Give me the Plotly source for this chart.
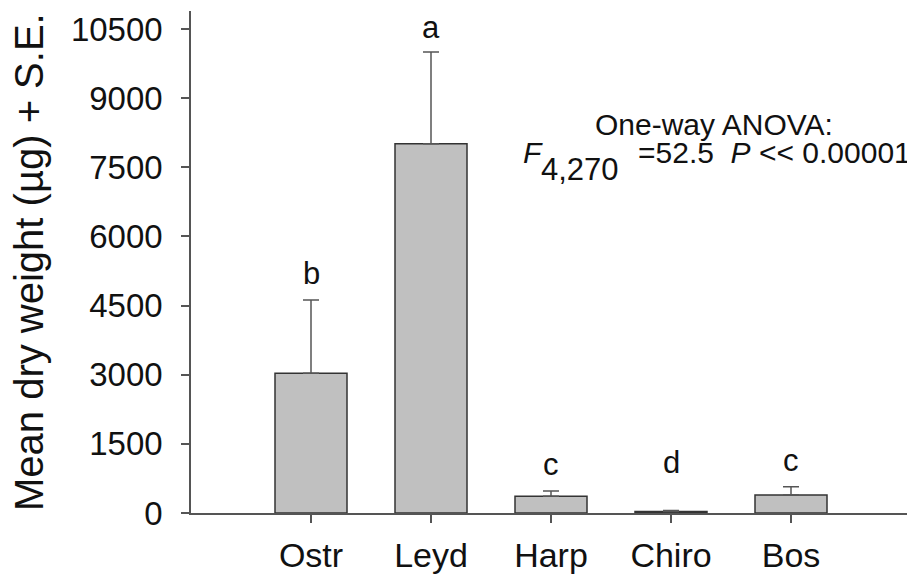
import plotly.graph_objects as go

categories = ["Ostr", "Leyd", "Harp", "Chiro", "Bos"]
means = [3030, 8010, 362, 30, 390]
se = [1590, 1990, 115, 25, 178]
letters = ["b", "a", "c", "d", "c"]
y_ticks = [0, 1500, 3000, 4500, 6000, 7500, 9000, 10500]
y_ticktext = [str(v) for v in y_ticks]

FONT = "Liberation Sans, Arial, sans-serif"
x_idx = list(range(len(categories)))

# page body has an 8px margin; the figure is sized to fill the rest
PW = 716  # plot-area width in px
PL = 191  # plot-area left edge on the page
fig = go.Figure()
fig.add_trace(go.Bar(
    x=x_idx, y=means,
    width=0.6,
    marker=dict(color="#c0c0c0", line=dict(color="#333333", width=1.5)),
    error_y=dict(type="data", symmetric=False, array=se,
                 arrayminus=[0] * len(se), color="#555555",
                 thickness=1.5, width=8),
    showlegend=False,
))

letter_shift = [7, 5, 7, 28, 7]
for i, (m, s, L) in enumerate(zip(means, se, letters)):
    fig.add_annotation(x=i, y=m + s, text=L, showarrow=False,
                       xanchor="center", yanchor="bottom",
                       yshift=letter_shift[i],
                       font=dict(family=FONT, size=31, color="#111"))

fig.add_annotation(xref="paper", yref="paper", x=(714 - PL) / PW,
                   y=(513 - 124) / 502, xanchor="center", yanchor="middle",
                   text="One-way ANOVA:", showarrow=False,
                   font=dict(family=FONT, size=30, color="#111"))
fig.add_annotation(xref="paper", yref="paper", x=(521 - PL) / PW,
                   y=(513 - 152) / 502, xanchor="left", yanchor="middle",
                   text="<i>F</i>", showarrow=False,
                   font=dict(family=FONT, size=30, color="#111"))
fig.add_annotation(xref="paper", yref="paper", x=(539 - PL) / PW,
                   y=(513 - 169) / 502, xanchor="left", yanchor="middle",
                   text="4,270", showarrow=False,
                   font=dict(family=FONT, size=31, color="#111"))
fig.add_annotation(xref="paper", yref="paper", x=(913 - PL) / PW,
                   y=(513 - 152) / 502, xanchor="right", yanchor="middle",
                   text="=52.5  <i>P</i> &lt;&lt; 0.00001", showarrow=False,
                   font=dict(family=FONT, size=30, color="#111"))

fig.add_annotation(xref="paper", yref="paper", x=(5 - PL) / PW, y=0.5,
                   xanchor="left", yanchor="middle",
                   text="Mean dry weight (µg) + S.E.", textangle=-90,
                   showarrow=False,
                   font=dict(family=FONT, size=40, color="#111"))

fig.update_layout(
    width=907, height=568,
    margin=dict(l=183, r=8, t=3, b=63, autoexpand=False),
    paper_bgcolor="white", plot_bgcolor="white",
    font=dict(family=FONT, color="#111"),
    xaxis=dict(range=[-1, -1 + PW / 120], tickmode="array", tickvals=x_idx,
               ticktext=categories, showline=True, linecolor="#555",
               linewidth=1.5, ticks="outside", ticklen=8, tickwidth=1.5,
               tickcolor="#555", showgrid=False, zeroline=False,
               tickfont=dict(family=FONT, size=34, color="#111"),
               ticklabelstandoff=3),
    yaxis=dict(range=[0, 10890], tickmode="array", tickvals=y_ticks,
               ticktext=y_ticktext,
               showline=True, linecolor="#555", linewidth=1.5,
               ticks="outside", ticklen=8, tickwidth=1.5, tickcolor="#555",
               showgrid=False, zeroline=False,
               tickfont=dict(family=FONT, size=33, color="#111"),
               ticklabelstandoff=12),
)

fig.write_html("out.html")
